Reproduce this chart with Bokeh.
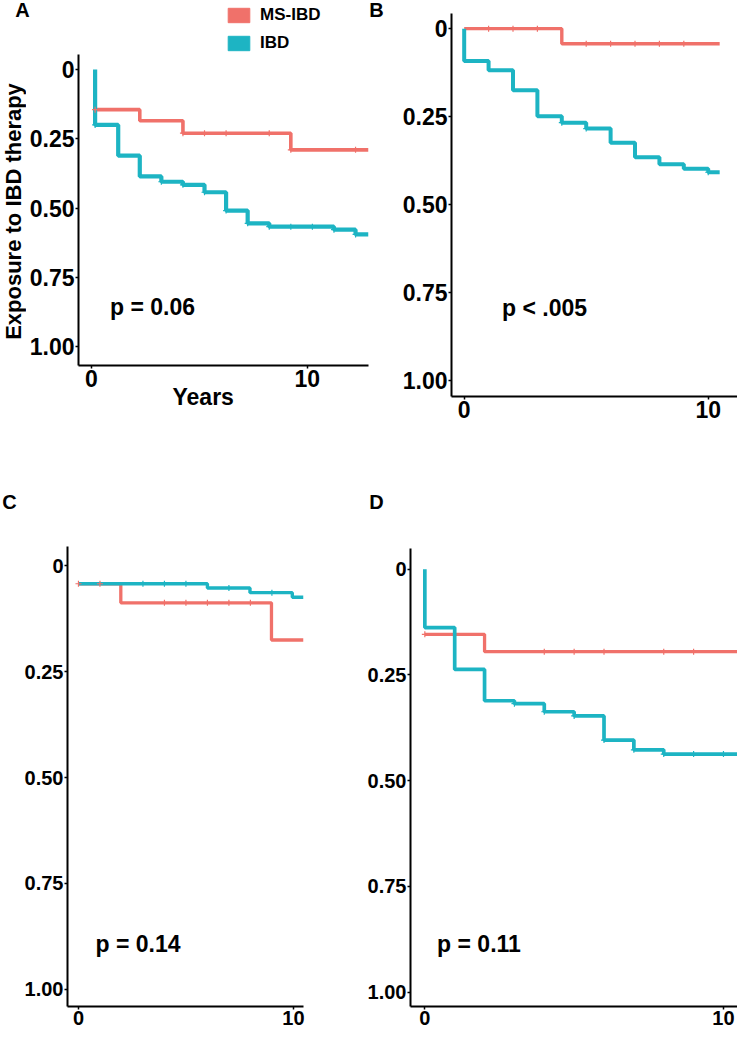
import math
from bokeh.plotting import figure
from bokeh.models import Range1d, FixedTicker, Label, Legend, LegendItem, Title
from bokeh.layouts import row, column
from bokeh.embed import file_html
from bokeh.resources import INLINE

# ---------------- data (years, cumulative exposure) ----------------
A_ms_time = [0.17, 2.24, 4.24, 9.24, 12.84]
A_ms_exp = [0.145, 0.185, 0.23, 0.29, 0.29]
A_ibd_time = [0.17, 0.17, 1.24, 2.24, 3.24, 4.24, 5.24, 6.24, 7.24, 8.24, 11.24, 12.24, 12.84]
A_ibd_exp = [0.0, 0.20, 0.311, 0.386, 0.405, 0.416, 0.443, 0.509, 0.555, 0.567, 0.578, 0.595, 0.595]
A_ms_cens_t = [0.17, 4.24, 5.24, 6.24, 8.24, 9.24, 12.24]
A_ms_cens_y = [0.145, 0.23, 0.23, 0.23, 0.23, 0.29, 0.29]
A_ibd_cens_t = [0.17, 3.24, 4.24, 5.24, 6.24, 7.24, 8.24, 9.24, 10.24, 11.24, 12.24]
A_ibd_cens_y = [0.20, 0.405, 0.416, 0.443, 0.509, 0.555, 0.567, 0.567, 0.567, 0.578, 0.595]

B_ms_time = [0.0, 4.0, 10.47]
B_ms_exp = [0.0, 0.043, 0.043]
B_ibd_time = [0.0, 0.0, 1.0, 2.0, 3.0, 4.0, 5.0, 6.0, 7.0, 8.0, 9.0, 10.0, 10.47]
B_ibd_exp = [0.0, 0.092, 0.118, 0.175, 0.249, 0.267, 0.284, 0.324, 0.365, 0.385, 0.398, 0.408, 0.408]
B_ms_cens_t = [1, 2, 3, 5, 6, 7, 8, 9]
B_ms_cens_y = [0.0, 0.0, 0.0, 0.043, 0.043, 0.043, 0.043, 0.043]
B_ibd_cens_t = [4, 5, 10]
B_ibd_cens_y = [0.267, 0.284, 0.408]

C_ms_time = [0.0, 1.97, 8.98, 10.47]
C_ms_exp = [0.042, 0.087, 0.175, 0.175]
C_ibd_time = [0.0, 6.0, 7.98, 9.95, 10.47]
C_ibd_exp = [0.042, 0.052, 0.063, 0.074, 0.074]
C_ms_cens_t = [0, 1, 4, 5, 6, 7, 8]
C_ms_cens_y = [0.042, 0.042, 0.087, 0.087, 0.087, 0.087, 0.087]
C_ibd_cens_t = [3, 4, 5, 7, 9]
C_ibd_cens_y = [0.042, 0.042, 0.042, 0.052, 0.063]

D_ms_time = [0.0, 2.0, 10.47]
D_ms_exp = [0.154, 0.195, 0.195]
D_ibd_time = [0.0, 0.0, 1.0, 2.0, 3.0, 4.0, 5.0, 6.0, 7.0, 8.0, 10.47]
D_ibd_exp = [0.0, 0.138, 0.237, 0.311, 0.318, 0.337, 0.347, 0.404, 0.427, 0.437, 0.437]
D_ms_cens_t = [0, 4, 5, 6, 8, 9]
D_ms_cens_y = [0.154, 0.195, 0.195, 0.195, 0.195, 0.195]
D_ibd_cens_t = [3, 4, 5, 6, 7, 8, 9, 10]
D_ibd_cens_y = [0.318, 0.337, 0.347, 0.404, 0.427, 0.437, 0.437, 0.437]

x_ticks = [0, 10]
y_ticks = [0, 0.25, 0.5, 0.75, 1.0]
y_tick_labels = ["0", "0.25", "0.50", "0.75", "1.00"]
series_names = ["MS-IBD", "IBD"]
panel_letters = ["A", "B", "C", "D"]
p_texts = ["p = 0.06", "p < .005", "p = 0.14", "p = 0.11"]
y_title = "Exposure to IBD therapy"
x_title = "Years"

RED = "#F0716A"
TEAL = "#1DB4C3"
FONT = "Liberation Sans"


def make_panel(w, h, bl, br, bt, bb, xr, yr, tick_fs):
    p = figure(width=w, height=h, output_backend="svg", toolbar_location=None,
               x_range=Range1d(*xr), y_range=Range1d(*yr),
               min_border_left=bl, min_border_right=br,
               min_border_top=bt, min_border_bottom=bb, frame_align=False)
    p.outline_line_color = None
    p.xgrid.visible = False
    p.ygrid.visible = False
    for ax in (p.xaxis[0], p.yaxis[0]):
        ax.axis_line_color = "black"
        ax.axis_line_width = 2
        ax.major_tick_line_color = "black"
        ax.major_tick_line_width = 1.5
        ax.major_tick_out = 3
        ax.major_tick_in = 0
        ax.minor_tick_line_color = None
        ax.major_label_text_font = FONT
        ax.major_label_text_font_style = "bold"
        ax.major_label_text_font_size = f"{tick_fs}px"
        ax.major_label_text_color = "black"
        ax.major_label_standoff = 1
    p.xaxis.ticker = FixedTicker(ticks=x_ticks)
    p.yaxis.ticker = FixedTicker(ticks=y_ticks)
    p.yaxis.major_label_overrides = {t: s for t, s in zip(y_ticks, y_tick_labels)}
    return p


def header(w, h):
    p = figure(width=w, height=h, output_backend="svg", toolbar_location=None,
               x_range=Range1d(0, w), y_range=Range1d(h, 0),
               x_axis_location=None, y_axis_location=None, min_border=0,
               frame_align=False)
    p.outline_line_color = None
    p.grid.visible = False
    return p


def draw(p, ms_t, ms_y, ibd_t, ibd_y, msc_t, msc_y, ibc_t, ibc_y, lw_ms, lw_ibd):
    p.step(ms_t, ms_y, mode="after", line_color=RED, line_width=lw_ms)
    p.step(ibd_t, ibd_y, mode="after", line_color=TEAL, line_width=lw_ibd)
    p.scatter(msc_t, msc_y, marker="cross", size=6, line_color=RED, line_width=1.2)
    p.scatter(ibc_t, ibc_y, marker="cross", size=6, line_color=TEAL, line_width=1.2)


def txt(p, x, y, text, fs, align="left", angle=0.0):
    p.add_layout(Label(x=x, y=y, text=text,
                       text_font=FONT, text_font_style="bold",
                       text_font_size=f"{fs}px", text_color="black",
                       text_align=align, text_baseline="middle", angle=angle))


NAN = float("nan")

# ---------------- top row ----------------
hdrA = header(385, 53)
txt(hdrA, 22, 9, panel_letters[0], 20, align="center")
txt(hdrA, 376, 9, panel_letters[1], 20, align="center")
r_ms = hdrA.quad(left=[NAN], right=[NAN], top=[NAN], bottom=[NAN],
                 fill_color=RED, line_color=RED)
r_ibd = hdrA.quad(left=[NAN], right=[NAN], top=[NAN], bottom=[NAN],
                  fill_color=TEAL, line_color=TEAL)
leg = Legend(items=[LegendItem(label=series_names[0], renderers=[r_ms]),
                    LegendItem(label=series_names[1], renderers=[r_ibd])],
             location=(225, 0), orientation="vertical",
             glyph_width=27, glyph_height=18, spacing=8, label_standoff=8,
             padding=0, margin=0, border_line_color=None, background_fill_alpha=0,
             label_text_font=FONT, label_text_font_style="bold",
             label_text_font_size="17px", label_text_color="black", label_height=18)
hdrA.add_layout(leg)

yfig = header(26, 419)
txt(yfig, 13, 158, y_title, 22, align="center", angle=math.pi / 2)

pA = make_panel(359, 419, 51, 17, 1, 107, (-0.6, 12.84), (1.068, -0.054), 23)
draw(pA, A_ms_time, A_ms_exp, A_ibd_time, A_ibd_exp,
     A_ms_cens_t, A_ms_cens_y, A_ibd_cens_t, A_ibd_cens_y, 3.6, 4.2)
txt(pA, 0.86, 0.858, p_texts[0], 23)
pA.add_layout(Title(text=x_title, align="left", offset=94, standoff=-15,
                    text_font=FONT, text_font_style="bold", text_font_size="23px",
                    text_color="black"), "below")

pB = make_panel(352, 472, 66, 0, 13, 76, (-0.52, 11.2), (1.045, -0.043), 23)
draw(pB, B_ms_time, B_ms_exp, B_ibd_time, B_ibd_exp,
     B_ms_cens_t, B_ms_cens_y, B_ibd_cens_t, B_ibd_cens_y, 3.4, 4.0)
txt(pB, 1.55, 0.793, p_texts[1], 23)

# ---------------- bottom row ----------------
hdrCD = header(737, 45)
txt(hdrCD, 9, 29, panel_letters[2], 20, align="center")
txt(hdrCD, 376, 29, panel_letters[3], 20, align="center")

pC = make_panel(360, 516, 67, 57, 29, 27, (-0.51, 10.47), (1.041, -0.046), 20)
draw(pC, C_ms_time, C_ms_exp, C_ibd_time, C_ibd_exp,
     C_ms_cens_t, C_ms_cens_y, C_ibd_cens_t, C_ibd_cens_y, 3.3, 3.4)
txt(pC, 0.79, 0.894, p_texts[2], 23)

pD = make_panel(377, 516, 50, 0, 31, 27, (-0.48, 10.47), (1.034, -0.049), 20)
draw(pD, D_ms_time, D_ms_exp, D_ibd_time, D_ibd_exp,
     D_ms_cens_t, D_ms_cens_y, D_ibd_cens_t, D_ibd_cens_y, 3.3, 3.7)
txt(pD, 0.41, 0.887, p_texts[3], 23)

layout = column(row(column(hdrA, row(yfig, pA)), pB), column(hdrCD, row(pC, pD)))
open("out.html", "w").write(file_html(layout, INLINE))
